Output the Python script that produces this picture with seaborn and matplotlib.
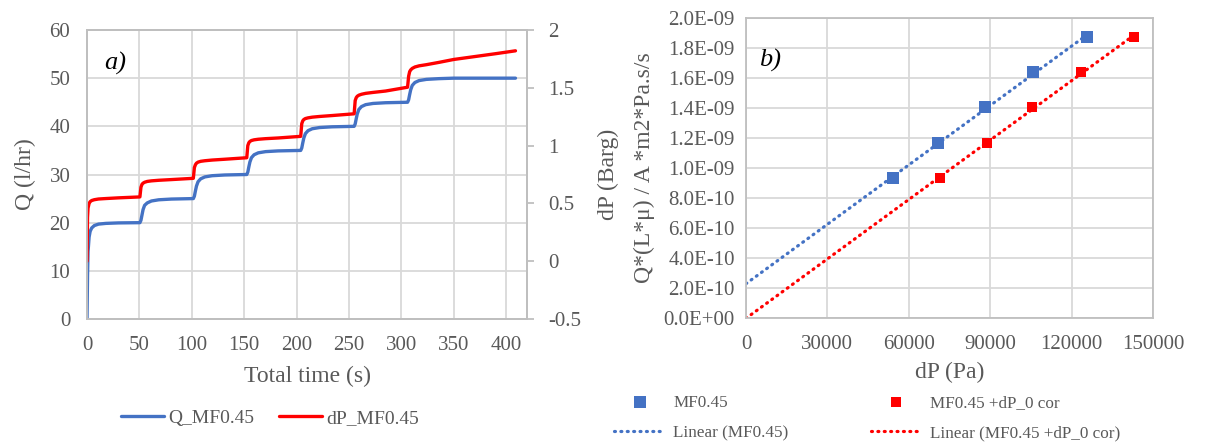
import matplotlib
matplotlib.use("Agg")
import matplotlib.pyplot as plt
from matplotlib.ticker import FuncFormatter
import numpy as np
import seaborn as sns

# ---- panel a): flow rate and pressure drop over time ----
time_s = [0, 0.5, 1, 2, 3, 4.5, 7, 11, 18, 30, 50.5,
          51.5, 52.5, 53.5, 55, 57.5, 61.5, 68.5, 80.5, 101.5,
          102.5, 103.5, 104.5, 106, 108.5, 112.5, 119.5, 131.5, 152.5,
          153.5, 154.5, 155.5, 157, 159.5, 163.5, 170.5, 182.5, 204,
          205, 206, 207, 208.5, 211, 215, 222, 234, 255,
          256, 257, 258, 259.5, 262, 266, 273, 285, 306,
          307, 308, 309, 310.5, 313, 317, 324, 336, 350, 370, 390, 409]
q_lhr = [0, 9, 14, 17, 18.2, 18.9, 19.4, 19.7, 19.85, 19.95, 20.0,
         20.5, 21.6, 22.7, 23.6, 24.1, 24.5, 24.75, 24.9, 25.0,
         25.5, 26.6, 27.6, 28.5, 29.1, 29.5, 29.75, 29.9, 30.0,
         30.5, 31.6, 32.6, 33.5, 34.1, 34.5, 34.75, 34.9, 35.0,
         35.5, 36.6, 37.6, 38.5, 39.1, 39.5, 39.75, 39.9, 40.0,
         40.5, 41.6, 42.6, 43.5, 44.1, 44.5, 44.75, 44.9, 45.0,
         45.5, 46.6, 47.6, 48.5, 49.1, 49.5, 49.75, 49.9, 50.0, 50.0, 50.0, 50.0]
dp_barg = [0.0, 0.38, 0.46, 0.50, 0.515, 0.525, 0.532, 0.538, 0.542, 0.548, 0.556,
           0.64, 0.665, 0.675, 0.683, 0.69, 0.695, 0.700, 0.706, 0.717,
           0.81, 0.835, 0.848, 0.857, 0.864, 0.869, 0.875, 0.882, 0.895,
           1.0, 1.025, 1.036, 1.044, 1.05, 1.055, 1.06, 1.066, 1.08,
           1.19, 1.215, 1.226, 1.234, 1.24, 1.246, 1.252, 1.26, 1.275,
           1.39, 1.415, 1.427, 1.436, 1.444, 1.452, 1.46, 1.472, 1.505,
           1.60, 1.64, 1.655, 1.668, 1.68, 1.69, 1.70, 1.72, 1.745, 1.77, 1.795, 1.82]

# ---- panel b): normalised flux versus pressure drop ----
dp_pa_raw = [54300, 70800, 88150, 105900, 125700]
dp_pa_cor = [71500, 88700, 105500, 123400, 143100]
flux_norm = [0.933e-9, 1.167e-9, 1.404e-9, 1.638e-9, 1.873e-9]

BLUE = "#4472C4"
RED = "#FF0000"
GRID = "#D9D9D9"
SPINE = "#BFBFBF"
TXT = "#595959"

sns.set_theme(style="white")
plt.rcParams["font.family"] = ["Liberation Serif", "DejaVu Serif"]
plt.rcParams["axes.unicode_minus"] = False

W, H = 1212, 446
fig = plt.figure(figsize=(W / 100, H / 100), dpi=100)

TICK_FS = 15
LABEL_FS = 17

# ================= panel a) =================
ax1 = fig.add_axes([87 / W, (H - 319) / H, 440 / W, 289 / H])
ax2 = ax1.twinx()

sns.lineplot(x=time_s, y=q_lhr, ax=ax1, color=BLUE, lw=2.4, label="Q_MF0.45",
             estimator=None, sort=False)
sns.lineplot(x=time_s, y=dp_barg, ax=ax2, color=RED, lw=2.4, label="dP_MF0.45",
             estimator=None, sort=False)

ax1.set_xlim(0, 420)
ax1.set_ylim(0, 60)
ax1.set_xticks(range(0, 401, 50))
ax1.set_yticks(range(0, 61, 10))
ax2.set_ylim(-0.5, 2)
ax2.set_yticks([-0.5, 0, 0.5, 1, 1.5, 2])
ax2.yaxis.set_major_formatter(FuncFormatter(lambda v, p: f"{v:g}"))

ax1.grid(True, color=GRID, lw=1.3)
ax1.set_axisbelow(True)
ax2.grid(False)
for a in (ax1, ax2):
    for s in a.spines.values():
        s.set_color(SPINE)
        s.set_linewidth(1.3)
ax1.tick_params(axis="x", length=0, pad=12, labelsize=TICK_FS, labelcolor=TXT)
ax1.tick_params(axis="y", length=0, pad=12, labelsize=TICK_FS, labelcolor=TXT)
ax2.tick_params(axis="y", length=5, width=1.3, color=SPINE, pad=10,
                labelsize=TICK_FS, labelcolor=TXT)

ax1.set_xlabel("Total time (s)", fontsize=LABEL_FS, color=TXT, labelpad=8)
ax1.set_ylabel("Q (l/hr)", fontsize=LABEL_FS, color=TXT, labelpad=10)
ax2.set_ylabel("dP (Barg)", fontsize=LABEL_FS, color=TXT, labelpad=12)
ax1.text(0.064, 0.885, "a)", transform=ax1.transAxes, fontsize=19,
         style="italic", ha="center", va="center", color="black")

h1, l1 = ax1.get_legend_handles_labels()
h2, l2 = ax2.get_legend_handles_labels()
for a in (ax1, ax2):
    if a.get_legend() is not None:
        a.get_legend().remove()
fig.legend(h1 + h2, l1 + l2, loc="center", bbox_to_anchor=(270 / W, 28 / H),
           ncol=2, frameon=False, fontsize=14, handlelength=2.2,
           handletextpad=0.2, columnspacing=1.3, labelcolor=TXT)

# ================= panel b) =================
ax3 = fig.add_axes([746 / W, (H - 318) / H, 407 / W, 300 / H])

sns.scatterplot(x=dp_pa_raw, y=flux_norm, ax=ax3, marker="s", s=78,
                color=BLUE, linewidth=0, label="MF0.45", zorder=3)
sns.scatterplot(x=dp_pa_cor, y=flux_norm, ax=ax3, marker="s", s=50,
                color=RED, linewidth=0, label="MF0.45 +dP_0 cor", zorder=3)

# least-squares trend lines, drawn from dP = 0 to the last point
dotted = (0, (0.3, 1.7))
for xs, col, name in ((dp_pa_raw, BLUE, "Linear (MF0.45)"),
                      (dp_pa_cor, RED, "Linear (MF0.45 +dP_0 cor)")):
    slope, icpt = np.polyfit(xs, flux_norm, 1)
    xl = np.array([0, max(xs)])
    sns.lineplot(x=xl, y=icpt + slope * xl, ax=ax3, color=col, lw=2.3,
                 linestyle=dotted, dash_capstyle="round", label=name,
                 zorder=2)

ax3.set_xlim(0, 150000)
ax3.set_ylim(0, 2e-9)
ax3.set_xticks(range(0, 150001, 30000))
ax3.set_yticks(np.arange(0, 2.01e-9, 0.2e-9))
ax3.yaxis.set_major_formatter(FuncFormatter(lambda v, p: f"{v:.1E}"))
ax3.grid(True, color=GRID, lw=1.3)
ax3.set_axisbelow(True)
for s in ax3.spines.values():
    s.set_color(SPINE)
    s.set_linewidth(1.3)
ax3.tick_params(axis="x", length=0, pad=12, labelsize=TICK_FS, labelcolor=TXT)
ax3.tick_params(axis="y", length=0, pad=8, labelsize=TICK_FS, labelcolor=TXT)
ax3.set_xlabel("dP (Pa)", fontsize=LABEL_FS, color=TXT, labelpad=6)
ax3.set_ylabel("Q*(L*μ) / A *m2*Pa.s/s", fontsize=LABEL_FS, color=TXT, labelpad=6)
ax3.text(0.059, 0.86, "b)", transform=ax3.transAxes, fontsize=19,
         style="italic", ha="center", va="center", color="black")

h3, l3 = ax3.get_legend_handles_labels()
if ax3.get_legend() is not None:
    ax3.get_legend().remove()
order = [l3.index(n) for n in ("MF0.45", "Linear (MF0.45)",
                               "MF0.45 +dP_0 cor", "Linear (MF0.45 +dP_0 cor)")]
fig.legend([h3[i] for i in order], [l3[i] for i in order], loc="center",
           bbox_to_anchor=(867 / W, 28 / H), ncol=2, frameon=False,
           fontsize=12.3, handlelength=3.0, handletextpad=0.47,
           columnspacing=4.8, labelspacing=0.85, labelcolor=TXT)

fig.savefig("out.png", dpi=100, facecolor="white")
